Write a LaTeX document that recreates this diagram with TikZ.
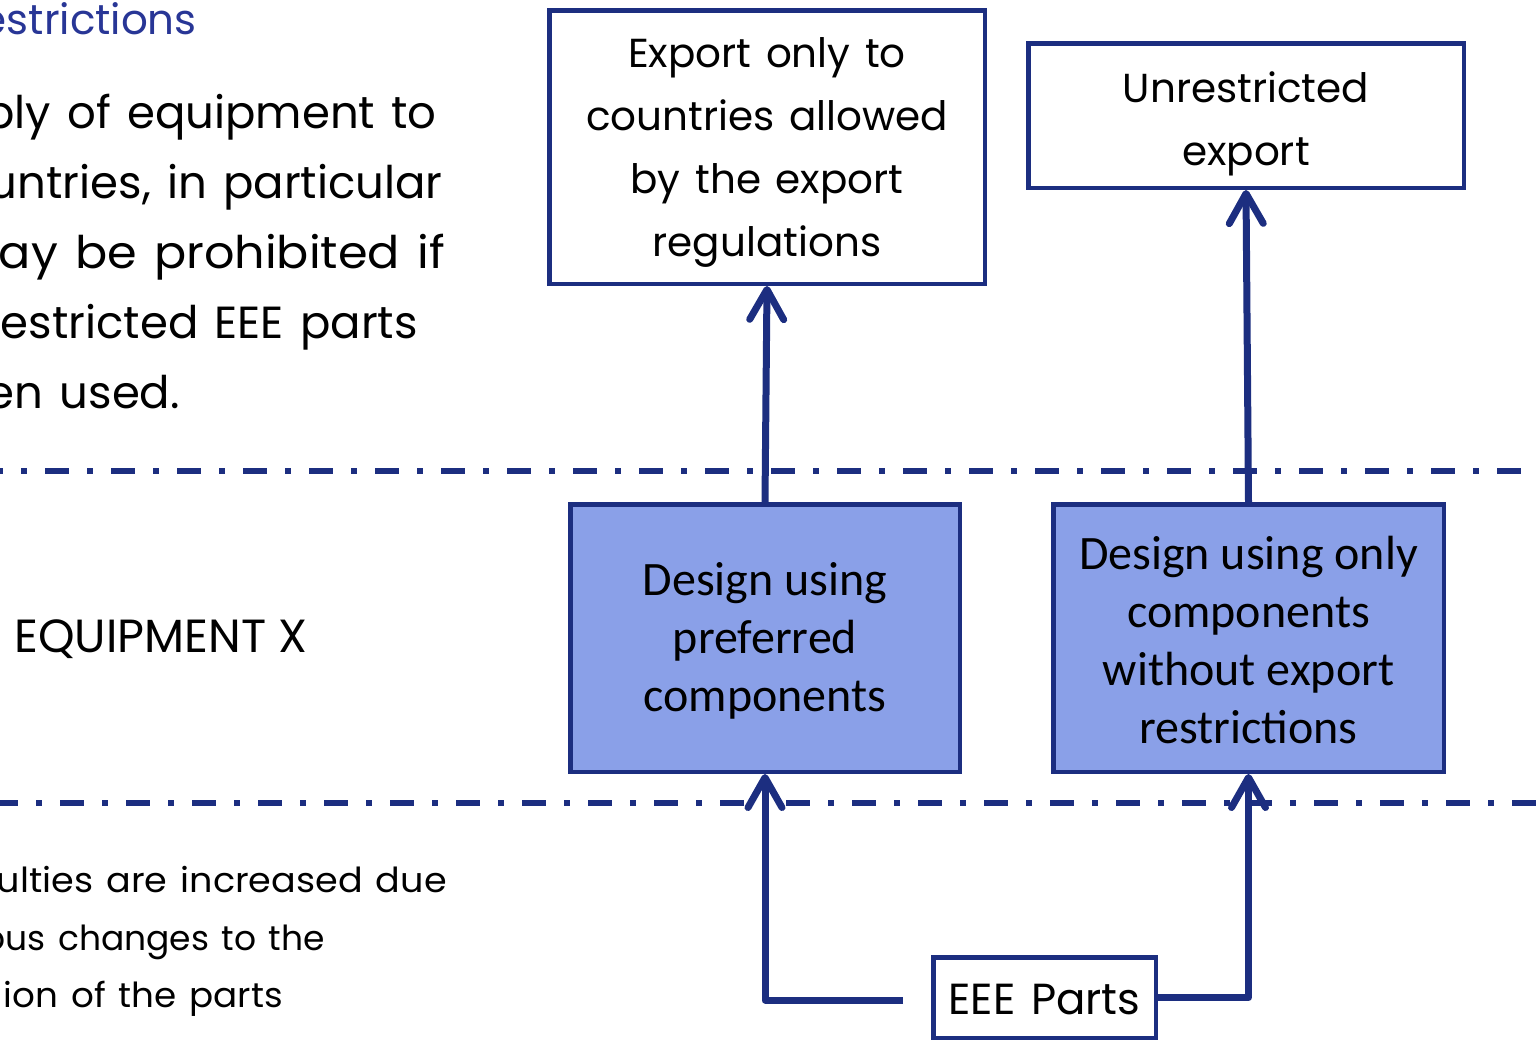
\documentclass[tikz,border=0pt]{standalone}
\usepackage{fontspec}
\setmainfont{Poppins}
\newfontfamily\notefont[WordSpace=1.35]{Poppins}
\newfontfamily\widenote[WordSpace=1.35,FakeStretch=1.06]{Poppins}
\newfontfamily\semiwidenote[WordSpace=1.35,FakeStretch=1.035]{Poppins}
\newfontfamily\boxfont{Carlito}
\usetikzlibrary{arrows.meta,calc}
\definecolor{navy}{RGB}{28,46,128}
\definecolor{boxfill}{RGB}{138,160,232}
\definecolor{headblue}{RGB}{40,54,150}

\begin{document}
\begin{tikzpicture}[x=1pt,y=-1pt,
  outcome/.style={draw=navy,line width=4.5pt,fill=white,inner sep=0pt},
  design/.style={draw=navy,line width=4.5pt,fill=boxfill,inner sep=0pt},
  outtext/.style={inner sep=0pt,align=center,font=\notefont\fontsize{40.5}{63}\selectfont},
  designtext/.style={inner sep=0pt,align=center,font=\boxfont\fontsize{48}{58}\selectfont},
  link/.style={draw=navy,line width=7pt,line join=round,
    -{Straight Barb[length=30pt,width=34pt,round]}},
  tier/.style={draw=navy,line width=6pt,dash pattern=on 24pt off 18pt on 6pt off 18pt},
  frag/.style={inner sep=0pt,anchor=base east},
]
\useasboundingbox (0,0) rectangle (1537,1042);

% tier separators
\draw[tier] (-21,471) -- (1560,471);
\draw[tier] (-6,803) -- (1560,803);

% left-hand notes
\node[frag,text=headblue,font=\notefont\fontsize{42}{42}\selectfont] (head) at (197,34) {estrictions};
\begin{scope}[every node/.style={font=\notefont\fontsize{45}{70}\selectfont}]
  \node[frag] (p1) at (437,128) {ply of equipment to};
  \node[frag] (p2) at (443,198) {untries, in particular};
  \node[frag,font=\widenote\fontsize{45}{70}\selectfont] (p3) at (445,268) {ay be prohibited if};
  \node[frag] (p4) at (418,338) {estricted EEE parts};
  \node[frag] (p5) at (180,408) {en used.};
\end{scope}
\node[inner sep=0pt,anchor=base west,font=\fontsize{46.5}{46.5}\selectfont] (eqx) at (14,652) {EQUIPMENT X};
\begin{scope}[every node/.style={font=\notefont\fontsize{34.5}{58}\selectfont}]
  \node[frag,font=\widenote\fontsize{34.5}{58}\selectfont] (q1) at (447,892) {ulties are increased due};
  \node[frag] (q2) at (325,950) {ous changes to the};
  \node[frag,font=\semiwidenote\fontsize{34.5}{58}\selectfont] (q3) at (283,1007) {ion of the parts};
\end{scope}

% boxes
\node[outcome,minimum width=435.5pt,minimum height=273.5pt] (A) at (767,147) {};
\node[outcome,minimum width=435.5pt,minimum height=144.5pt] (B) at (1246,115.5) {};
\node[design,minimum width=389.5pt,minimum height=267.5pt] (C) at (765,638) {};
\node[design,minimum width=390.5pt,minimum height=267.5pt] (D) at (1248.5,638) {};
\node[outcome,minimum width=222.5pt,minimum height=80.5pt] (E) at (1044.5,997.5) {};

% box captions
\node[outtext] (At) at ($(A.center)+(0,5)$)
  {Export only to\\countries allowed\\by the export\\regulations};
\node[outtext] (Bt) at ($(B.center)+(0,8)$) {Unrestricted\\export};
\node[designtext] (Ct) at ($(C.center)+(0,3)$) {Design using\\preferred\\components};
\node[designtext] (Dt) at ($(D.center)+(0,2)$)
  {Design using only\\components\\without export\\restrictions};
\node[outtext,font=\notefont\fontsize{43.5}{43.5}\selectfont] (Et) at ($(E.center)+(0,2)$) {EEE Parts};

% connectors
\coordinate (stub) at (903,1000);
\draw[link] (C.north) -- (A.south);
\draw[link] (D.north) -- (B.south);
\draw[link] (stub) -| (C.south);
\draw[link] (E.east) -| (D.south);
\end{tikzpicture}
\end{document}
